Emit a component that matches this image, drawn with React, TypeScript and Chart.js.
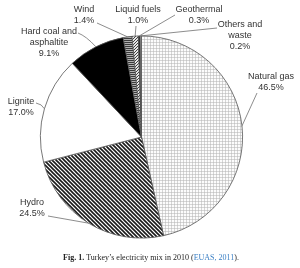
import React, { useEffect, useRef } from "react";
import { Chart, registerables } from "chart.js";

Chart.register(...registerables);

const categories = [
  "Natural gas",
  "Hydro",
  "Lignite",
  "Hard coal and asphaltite",
  "Wind",
  "Liquid fuels",
  "Geothermal",
  "Others and waste",
];
const shares = [46.5, 24.5, 17.0, 9.1, 1.4, 1.0, 0.3, 0.2];
const labelLines = [
  ["Natural gas"],
  ["Hydro"],
  ["Lignite"],
  ["Hard coal and", "asphaltite"],
  ["Wind"],
  ["Liquid fuels"],
  ["Geothermal"],
  ["Others and", "waste"],
];
const captionBold = "Fig. 1.";
const captionText = " Turkey’s electricity mix in 2010 (";
const captionLink = "EUAS, 2011";
const captionEnd = ").";

// label layout: text centre x, first line centre y, leader start point, optional bend
const labelLayout: { x: number; y: number; lx: number; ly: number; bx?: number; by?: number }[] = [
  { x: 271, y: 77, lx: 257, ly: 93 },
  { x: 32, y: 203, lx: 48, ly: 216 },
  { x: 21, y: 102, lx: 36, ly: 103, bx: 42, by: 104 },
  { x: 49, y: 32, lx: 78, ly: 33, bx: 86, by: 36 },
  { x: 84, y: 10, lx: 97, ly: 23 },
  { x: 138, y: 10, lx: 136, ly: 26 },
  { x: 199, y: 10, lx: 175, ly: 15 },
  { x: 240, y: 25, lx: 217, ly: 28 },
];

function makePattern(size: number, draw: (c: CanvasRenderingContext2D) => void) {
  const cv = document.createElement("canvas");
  cv.width = size;
  cv.height = size;
  const c = cv.getContext("2d")!;
  draw(c);
  return c.createPattern(cv, "repeat")!;
}

function buildFills() {
  const gas = makePattern(3, (c) => {
    c.fillStyle = "#fcfcfc";
    c.fillRect(0, 0, 3, 3);
    c.fillStyle = "#d6d6d6";
    c.fillRect(0, 0, 3, 1);
    c.fillRect(0, 0, 1, 3);
    c.fillStyle = "#c4c4c4";
    c.fillRect(0, 0, 1, 1);
  });
  const hydro = makePattern(4, (c) => {
    c.fillStyle = "#ffffff";
    c.fillRect(0, 0, 4, 4);
    c.strokeStyle = "#1a1a1a";
    c.lineWidth = 1.6;
    for (const o of [-4, 0, 4]) {
      c.beginPath();
      c.moveTo(o - 1, -1);
      c.lineTo(o + 5, 5);
      c.stroke();
    }
  });
  const wind = makePattern(2, (c) => {
    c.fillStyle = "#b0b0b0";
    c.fillRect(0, 0, 2, 2);
    c.fillStyle = "#3a3a3a";
    c.fillRect(0, 0, 2, 1);
  });
  const liquid = makePattern(3, (c) => {
    c.fillStyle = "#e8e8e8";
    c.fillRect(0, 0, 3, 3);
    c.fillStyle = "#444";
    c.fillRect(0, 0, 1, 1);
    c.fillRect(2, 1, 1, 1);
    c.fillRect(1, 2, 1, 1);
  });
  return [gas, hydro, "#ffffff", "#000000", wind, liquid, "#222222", "#dddddd"];
}

const labelPlugin = {
  id: "pieLabels",
  afterDraw(chart: any) {
    const ctx = chart.ctx as CanvasRenderingContext2D;
    const meta = chart.getDatasetMeta(0);
    ctx.save();
    ctx.font = "9px 'Liberation Sans', Arial, sans-serif";
    ctx.textAlign = "center";
    ctx.textBaseline = "middle";
    const lh = 10.8;
    meta.data.forEach((arc: any, i: number) => {
      const p = arc.getProps(["x", "y", "startAngle", "endAngle", "outerRadius"], true);
      const mid = (p.startAngle + p.endAngle) / 2;
      const ax = p.x + Math.cos(mid) * p.outerRadius;
      const ay = p.y + Math.sin(mid) * p.outerRadius;
      const L = labelLayout[i];
      ctx.strokeStyle = "#707070";
      ctx.lineWidth = 0.8;
      ctx.beginPath();
      ctx.moveTo(L.lx, L.ly);
      if (L.bx !== undefined && L.by !== undefined) {
        ctx.quadraticCurveTo(L.bx, L.by, ax, ay);
      } else {
        ctx.lineTo(ax, ay);
      }
      ctx.stroke();
      ctx.fillStyle = "#333";
      const lines = [...labelLines[i], shares[i].toFixed(1) + "%"];
      lines.forEach((t, k) => ctx.fillText(t, L.x, L.y + k * lh));
    });
    // caption
    ctx.textAlign = "left";
    ctx.textBaseline = "alphabetic";
    const bold = "bold 8px 'Liberation Serif', serif";
    const reg = "8px 'Liberation Serif', serif";
    ctx.font = bold;
    const w1 = ctx.measureText(captionBold).width;
    ctx.font = reg;
    const w2 = ctx.measureText(captionText).width;
    const w3 = ctx.measureText(captionLink).width;
    const w4 = ctx.measureText(captionEnd).width;
    let x = 151 - (w1 + w2 + w3 + w4) / 2;
    const y = 259.5;
    ctx.font = bold;
    ctx.fillStyle = "#222";
    ctx.fillText(captionBold, x, y);
    x += w1;
    ctx.font = reg;
    ctx.fillText(captionText, x, y);
    x += w2;
    ctx.fillStyle = "#3a7fc4";
    ctx.fillText(captionLink, x, y);
    x += w3;
    ctx.fillStyle = "#222";
    ctx.fillText(captionEnd, x, y);
    ctx.restore();
  },
};

export default function App() {
  const ref = useRef<HTMLCanvasElement>(null);
  useEffect(() => {
    const chart = new Chart(ref.current!, {
      type: "pie",
      data: {
        labels: categories,
        datasets: [
          {
            data: shares,
            backgroundColor: buildFills() as any,
            borderColor: "#555",
            borderWidth: 0.8,
            hoverBorderWidth: 0.8,
            hoverOffset: 0,
          },
        ],
      },
      options: {
        responsive: false,
        animation: false,
        events: [],
        layout: { padding: { left: 40, right: 57, top: 35, bottom: 29 } },
        plugins: { legend: { display: false }, tooltip: { enabled: false } },
      },
      plugins: [labelPlugin],
    });
    return () => chart.destroy();
  }, []);
  return (
    <div style={{ position: "fixed", left: 0, top: 0, width: 300, height: 268, background: "#fff" }}>
      <canvas ref={ref} width={300} height={268} style={{ width: 300, height: 268 }} />
    </div>
  );
}
